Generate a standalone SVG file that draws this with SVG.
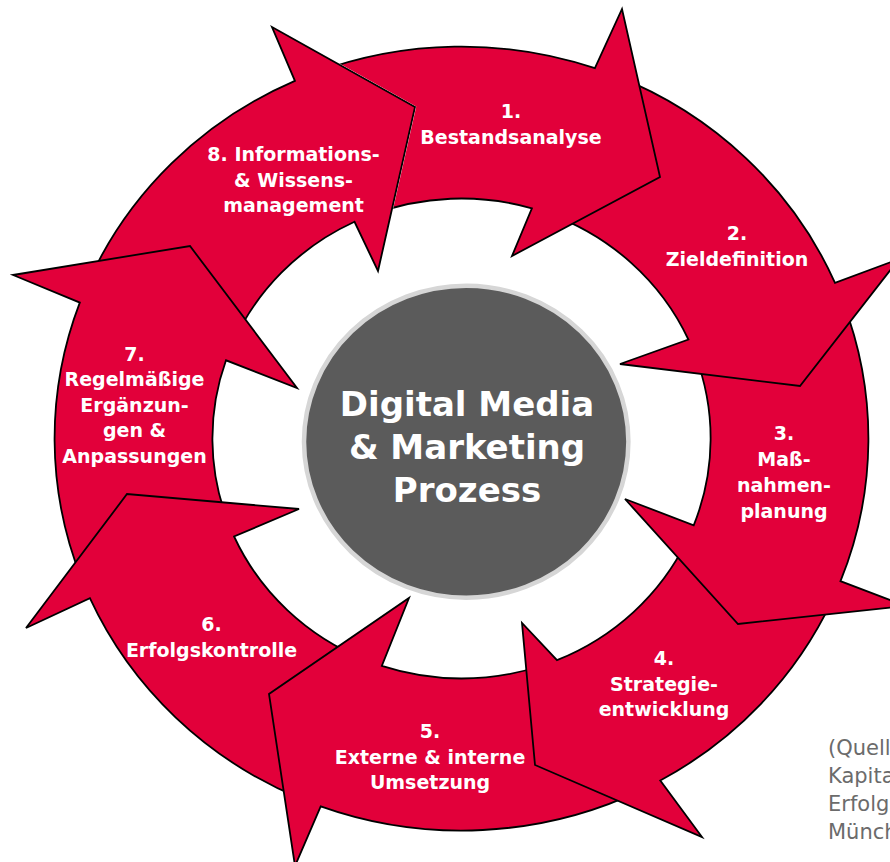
<svg xmlns="http://www.w3.org/2000/svg" width="890" height="862" viewBox="0 0 890 862">
<style>
.arrow{fill:#E2003A;stroke:#000;stroke-width:1.8;stroke-linejoin:miter}
.lbl{font-family:"DejaVu Sans","Liberation Sans",sans-serif;font-weight:bold;font-size:19px;fill:#fff;text-anchor:middle}
.title{font-family:"DejaVu Sans","Liberation Sans",sans-serif;font-weight:bold;font-size:34px;fill:#fff;text-anchor:middle}
.src{font-family:"DejaVu Sans","Liberation Sans",sans-serif;font-size:21px;fill:#6b6b6b}
</style>
<defs>
<mask id="m1" maskUnits="userSpaceOnUse" x="0" y="0" width="890" height="862">
<rect x="0" y="0" width="890" height="862" fill="#fff"/>
<polygon points="272,27 415,107 378,271" fill="#000" stroke="#000" stroke-width="2.2"/>
</mask>
</defs>
<rect width="890" height="862" fill="#fff"/>
<g id="step8">
<path class="arrow" d="M 87.7 283.6 A 406.9 392 0 0 1 294.9 80.8 L 272 27 L 415 107 L 378 271 L 354.5 221.8 A 249.1 240 0 0 0 232.2 344.7 Z"/>
<text class="lbl" x="293.5" y="161">8. Informations-</text>
<text class="lbl" x="293.5" y="187">&amp; Wissens-</text>
<text class="lbl" x="293.5" y="212">management</text>
</g>
<g id="step7">
<path class="arrow" d="M 81.7 579.2 A 406.9 392 0 0 1 79.8 302.6 L 13 275 L 190 246 L 297 388 L 226.0 360.3 A 249.1 240 0 0 0 227.6 521.0 Z"/>
<text class="lbl" x="134.5" y="361">7.</text>
<text class="lbl" x="134.5" y="386">Regelmäßige</text>
<text class="lbl" x="134.5" y="412">Ergänzun-</text>
<text class="lbl" x="134.5" y="437">gen &amp;</text>
<text class="lbl" x="134.5" y="463">Anpassungen</text>
</g>
<g id="step6">
<path class="arrow" d="M 300.9 798.7 A 406.9 392 0 0 1 89.9 598.2 L 26 628 L 127 494 L 299 509 L 234.1 536.5 A 249.1 240 0 0 0 365.5 660.0 Z"/>
<text class="lbl" x="211.5" y="631">6.</text>
<text class="lbl" x="211.5" y="657">Erfolgskontrolle</text>
</g>
<g id="step5">
<path class="arrow" d="M 641.5 790.1 A 406.9 392 0 0 1 320.7 806.3 L 295 866 L 269 694 L 409 598 L 381.8 665.9 A 249.1 240 0 0 0 540.8 666.0 Z"/>
<text class="lbl" x="430" y="738">5.</text>
<text class="lbl" x="430" y="764">Externe &amp; interne</text>
<text class="lbl" x="430" y="789">Umsetzung</text>
</g>
<g id="step4">
<path class="arrow" d="M 832.2 600.2 A 406.9 392 0 0 1 660.3 780.5 L 702 837 L 535 765 L 522 623 L 557.0 660.2 A 249.1 240 0 0 0 686.9 540.7 Z"/>
<text class="lbl" x="664" y="665">4.</text>
<text class="lbl" x="664" y="691">Strategie-</text>
<text class="lbl" x="664" y="716">entwicklung</text>
</g>
<g id="step3">
<path class="arrow" d="M 842.9 301.9 A 406.9 392 0 0 1 840.5 581.2 L 906 606 L 738 624 L 625 499 L 693.7 525.3 A 249.1 240 0 0 0 695.1 355.0 Z"/>
<text class="lbl" x="784" y="440">3.</text>
<text class="lbl" x="784" y="466">Maß-</text>
<text class="lbl" x="784" y="492">nahmen-</text>
<text class="lbl" x="784" y="518">planung</text>
</g>
<g id="step2">
<path class="arrow" d="M 614.9 75.4 A 406.9 392 0 0 1 835.0 282.9 L 899 259 L 800 386 L 620 364 L 688.4 339.5 A 249.1 240 0 0 0 548.4 213.6 Z"/>
<text class="lbl" x="737" y="240">2.</text>
<text class="lbl" x="737" y="266">Zieldefinition</text>
</g>
<g id="step1">
<path class="arrow" mask="url(#m1)" d="M 314.6 73.0 A 406.9 392 0 0 1 594.9 68.2 L 622 9 L 660 177 L 512 256 L 531.9 208.3 A 249.1 240 0 0 0 370.5 215.1 Z"/>
<text class="lbl" x="511" y="118">1.</text>
<text class="lbl" x="511" y="144">Bestandsanalyse</text>
</g>
<g id="center">
<ellipse cx="466.2" cy="441.7" rx="162.2" ry="156" fill="#5B5B5B" stroke="#D6D6D6" stroke-width="4.5"/>
<text class="title" x="467" y="416">Digital Media</text>
<text class="title" x="467" y="459">&amp; Marketing</text>
<text class="title" x="467" y="502">Prozess</text>
</g>
<g id="source">
<text class="src" x="828" y="755">(Quell</text>
<text class="src" x="828" y="783">Kapita</text>
<text class="src" x="828" y="811">Erfolgs</text>
<text class="src" x="828" y="839">Münch</text>
</g>
</svg>
